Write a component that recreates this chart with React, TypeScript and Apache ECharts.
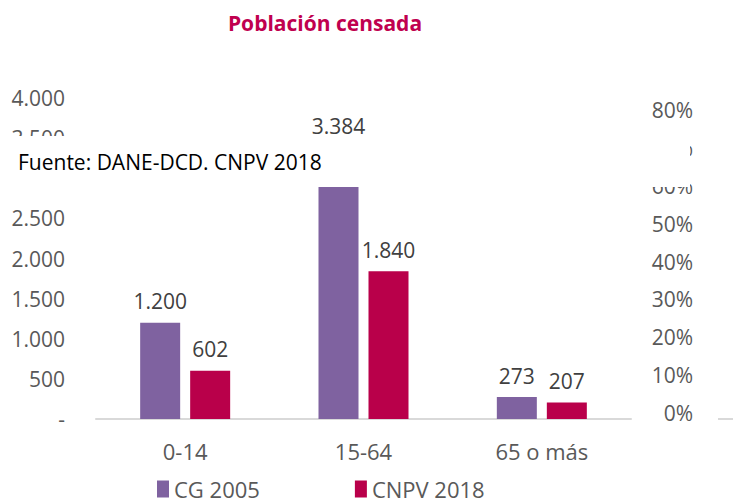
import React, { useEffect, useRef } from "react";
import * as echarts from "echarts";

const categories = ["0-14", "15-64", "65 o más"];
const cg2005 = [1200, 3384, 273];
const cnpv2018 = [602, 1840, 207];
const seriesNames = ["CG 2005", "CNPV 2018"];
const title = "Población censada";
const source = "Fuente: DANE-DCD. CNPV 2018";

const FONT = "'Open Sans', 'Noto Sans', sans-serif";

function fmt(v: number): string {
  if (v === 0) return "-";
  return String(Math.round(v)).replace(/\B(?=(\d{3})+(?!\d))/g, ".");
}

export default function App() {
  const ref = useRef<HTMLDivElement>(null);
  useEffect(() => {
    if (!ref.current) return;
    const chart = echarts.init(ref.current, undefined, { renderer: "svg" });
    const label = {
      show: true,
      position: "top" as const,
      distance: 11,
      color: "#404040",
      fontSize: 21,
      fontFamily: FONT,
      formatter: (p: any) => fmt(p.value),
    };
    chart.setOption({
      animation: false,
      title: {
        text: title,
        left: 320,
        top: 7,
        textAlign: "center",
        textStyle: { color: "#C0004F", fontSize: 21, fontWeight: "bold", fontFamily: FONT },
      },
      legend: {
        data: seriesNames,
        left: 152,
        top: 473,
        itemWidth: 12,
        itemHeight: 17,
        itemGap: 95,
        icon: "rect",
        textStyle: { color: "#595959", fontSize: 22, lineHeight: 22, fontFamily: FONT },
      },
      grid: [
        { left: 96, right: 102, top: 98, bottom: 83 },
        { left: 96, right: 102, top: 110, bottom: 89 },
      ],
      xAxis: [
        {
          type: "category",
          data: categories,
          gridIndex: 0,
          axisLine: { lineStyle: { color: "#D9D9D9", width: 2 } },
          axisTick: { show: false },
          axisLabel: { color: "#595959", fontSize: 22, fontFamily: FONT, margin: 21 },
        },
        {
          type: "category",
          data: categories,
          gridIndex: 1,
          show: false,
        },
      ],
      yAxis: [
        {
          type: "value",
          gridIndex: 0,
          min: 0,
          max: 4000,
          interval: 500,
          splitLine: { show: false },
          axisLine: { show: false },
          axisTick: { show: false },
          axisLabel: {
            color: "#595959",
            fontSize: 21,
            fontFamily: FONT,
            margin: 31,
            formatter: (v: number) => fmt(v),
          },
        },
        {
          type: "value",
          gridIndex: 1,
          position: "right",
          min: 0,
          max: 0.8,
          interval: 0.1,
          splitLine: { show: false },
          axisLine: { show: false },
          axisTick: { show: false },
          axisLabel: {
            color: "#595959",
            fontSize: 21,
            fontFamily: FONT,
            margin: 62,
            align: "right",
            formatter: (v: number) => Math.round(v * 100) + "%",
          },
        },
      ],
      series: [
        {
          name: seriesNames[0],
          type: "bar",
          data: cg2005,
          barWidth: 40,
          barGap: "25%",
          itemStyle: { color: "#7F62A0" },
          label,
        },
        {
          name: seriesNames[1],
          type: "bar",
          data: cnpv2018,
          barWidth: 40,
          barGap: "25%",
          itemStyle: { color: "#B9004A" },
          label,
        },
      ],
      graphic: [
        {
          type: "rect",
          shape: { x: 0, y: 136, width: 690, height: 51 },
          style: { fill: "#FFFFFF" },
          z: 100,
        },
        {
          type: "text",
          x: 18,
          y: 162,
          z: 101,
          style: {
            text: source,
            fill: "#000000",
            fontSize: 21,
            fontFamily: FONT,
            verticalAlign: "middle",
          },
        },
        {
          type: "line",
          shape: { x1: 718, y1: 419, x2: 733, y2: 419 },
          style: { stroke: "#D9D9D9", lineWidth: 2 },
        },
      ],
    });
    return () => chart.dispose();
  }, []);
  return <div ref={ref} style={{ width: 733, height: 502, position: "absolute", left: 0, top: 0 }} />;
}
